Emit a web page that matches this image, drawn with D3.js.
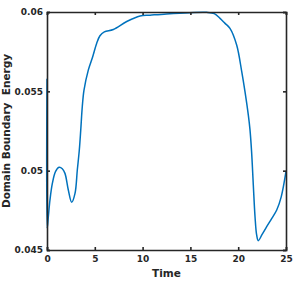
<!DOCTYPE html>
<html>
<head>
<meta charset="utf-8">
<script src="https://cdn.jsdelivr.net/npm/d3@7"></script>
<style>
  html, body { margin: 0; padding: 0; background: #fff; }
  text { font-family: "DejaVu Sans", sans-serif; font-weight: bold; fill: #262626; }
</style>
</head>
<body>
<div id="viz"></div>
<script>
// Domain boundary energy over time.
const TIME = [0, 0.02, 0.14, 0.31, 0.56, 0.9, 1.26, 1.6, 1.88, 2.23, 2.58, 2.93, 3.17, 3.38,
  3.53, 3.69, 3.87, 4.32, 4.78, 5.2, 5.54, 6.0, 6.94, 8.34, 9.73, 10.77, 12.5, 14.96, 16.7,
  17.5, 18.1, 18.6, 19.14, 19.84, 20.37, 20.71, 21.06, 21.23, 21.4, 21.58, 21.76, 21.93, 22.1,
  22.5, 22.98, 23.5, 24.03, 24.5, 25];
const ENERGY = [0.0558, 0.04637, 0.0471, 0.04815, 0.0492, 0.04995, 0.05021, 0.05012, 0.04983,
  0.04878, 0.04801, 0.04857, 0.05004, 0.0513, 0.05256, 0.05403, 0.05508, 0.05634, 0.05718,
  0.05803, 0.0585, 0.05875, 0.0589, 0.0594, 0.05975, 0.0598, 0.05988, 0.05996, 0.05998,
  0.0599, 0.0596, 0.0593, 0.05897, 0.05792, 0.05624, 0.05498, 0.0535, 0.0526, 0.0512,
  0.0491, 0.0471, 0.04595, 0.04559, 0.04598, 0.04647, 0.04698, 0.04752, 0.04835, 0.04995];
const X_TICKS = [0, 5, 10, 15, 20, 25];
const Y_TICKS = [0.045, 0.05, 0.055, 0.06];

const W = 299, H = 300;
const m = { left: 47, right: 13, top: 12, bottom: 50 };
const AXIS = "#262626";

const svg = d3.select("#viz").append("svg")
  .attr("width", W).attr("height", H);

const x = d3.scaleLinear().domain([0, 25]).range([m.left, W - m.right]);
const y = d3.scaleLinear().domain([0.045, 0.06]).range([H - m.bottom, m.top]);

const data = TIME.map((t, i) => ({ t, v: ENERGY[i] }));

svg.append("path")
  .datum(data)
  .attr("fill", "none")
  .attr("stroke", "#0072BD")
  .attr("stroke-width", 1.5)
  .attr("d", d3.line().x(d => x(d.t)).y(d => y(d.v)).curve(d3.curveCatmullRom.alpha(0.5)));

// axes, MATLAB style: ticks inside, box on
const tickLen = 3;
const xAxis = svg.append("g").attr("transform", `translate(0,${y(0.045)})`)
  .call(d3.axisBottom(x).tickValues(X_TICKS).tickSize(-tickLen).tickPadding(6)
    .tickFormat(d3.format("d")));
const xTop = svg.append("g").attr("transform", `translate(0,${y(0.06)})`)
  .call(d3.axisTop(x).tickValues(X_TICKS).tickSize(-tickLen).tickFormat(""));
const yAxis = svg.append("g").attr("transform", `translate(${x(0)},0)`)
  .call(d3.axisLeft(y).tickValues(Y_TICKS).tickSize(-tickLen).tickPadding(4)
    .tickFormat(d => String(+d.toFixed(3))));
const yRight = svg.append("g").attr("transform", `translate(${x(25)},0)`)
  .call(d3.axisRight(y).tickValues(Y_TICKS).tickSize(-tickLen).tickFormat(""));

[xAxis, xTop, yAxis, yRight].forEach(g => {
  g.select(".domain").attr("stroke", AXIS).attr("stroke-width", 1.6);
  g.selectAll(".tick line").attr("stroke", AXIS).attr("stroke-width", 1.6);
  g.selectAll(".tick text").attr("font-size", 9).attr("fill", AXIS)
    .style("font-family", "DejaVu Sans").style("font-weight", "bold");
});

svg.append("text")
  .attr("x", (x(0) + x(25)) / 2)
  .attr("y", 277)
  .attr("text-anchor", "middle")
  .attr("font-size", 10.5)
  .text("Time");

svg.append("text")
  .attr("transform", `translate(10,${(y(0.045) + y(0.06)) / 2}) rotate(-90)`)
  .attr("text-anchor", "middle")
  .attr("font-size", 10.5)
  .style("white-space", "pre")
  .text("Domain Boundary  Energy");
</script>
</body>
</html>
